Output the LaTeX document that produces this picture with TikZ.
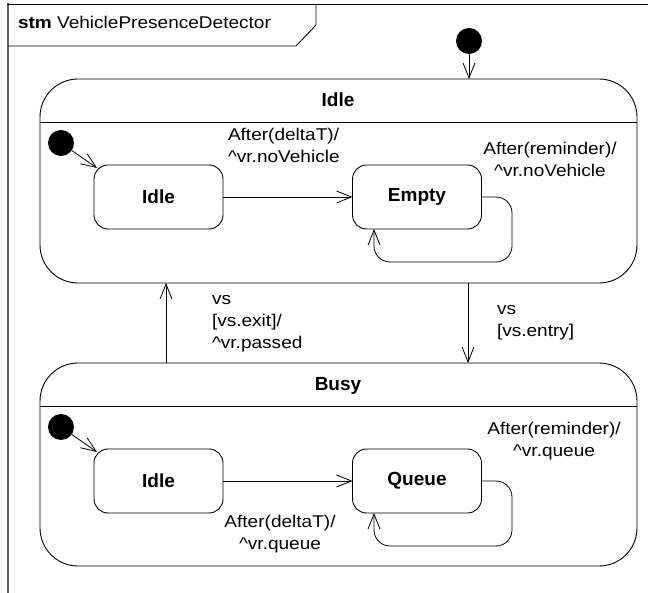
\documentclass[tikz,border=0pt]{standalone}
\usepackage{fontspec}
\setmainfont{Liberation Sans}[FakeStretch=1.12]
\newfontfamily\statefont{Liberation Sans}
\usetikzlibrary{arrows.meta}
\begin{document}
\begin{tikzpicture}[x=1pt,y=-1pt,
  every node/.style={inner sep=0pt,outer sep=0pt},
  composite/.style={draw,rounded corners=38pt,minimum width=597pt,minimum height=204pt,line width=0.9pt},
  simple/.style={draw,rounded corners=14pt,minimum width=129pt,minimum height=64pt,line width=0.9pt,
    font=\statefont\bfseries\fontsize{19}{21}\selectfont},
  ctitle/.style={font=\statefont\bfseries\fontsize{19}{21}\selectfont,anchor=base},
  initial/.style={circle,fill=black,minimum size=26pt},
  trans/.style={-{Straight Barb[length=15pt,width=12pt,line width=0.8pt]},line width=0.8pt},
  lbl/.style={font=\fontsize{17}{22}\selectfont,align=left},
  clbl/.style={font=\fontsize{17}{22}\selectfont,align=center},
]
\useasboundingbox (0,0) rectangle (648,593);

% diagram frame and heading
\draw[line width=2pt,gray!80!black] (8,3) -- (8,593);
\draw[line width=0.9pt] (7,4) -- (648,4);
\draw[line width=0.9pt] (8,46) -- (296,46) -- (316,25) -- (316,4);
\node[anchor=base west,font=\fontsize{17}{20}\selectfont] (heading) at (18,29)
  {\textbf{stm} VehiclePresenceDetector};

% composite states
\node[composite] (idleC) at (338.5,181) {};
\node[composite,minimum height=203pt] (busyC) at (338.5,464.5) {};
\coordinate (sepIa) at (40,122);
\coordinate (sepIb) at (637,122);
\coordinate (sepBa) at (40,406);
\coordinate (sepBb) at (637,406);
\draw[line width=0.9pt] (sepIa) -- (sepIb);
\draw[line width=0.9pt] (sepBa) -- (sepBb);
\node[ctitle] (idleT) at (338,107) {Idle};
\node[ctitle] (busyT) at (338,391) {Busy};

% top-level initial pseudostate
\node[initial] (init0) at (469,41) {};
\draw[trans] (init0) -- (init0 |- idleC.north);

% substates of Idle
\node[initial] (init1) at (61,143) {};
\node[simple] (idle1) at (158.5,197) {Idle};
\node[simple] (empty) at (417,197) {Empty};
\coordinate (idle1c) at (97,168);
\draw[trans] (init1) -- (idle1c);
\draw[trans] (idle1) -- (empty);
\coordinate (eloopA) at (512,197);
\coordinate (eloopB) at (512,262);
\coordinate (eloopC) at (374,262);
\draw[trans,rounded corners=16pt] (empty.east) -- (eloopA) -- (eloopB) -- (eloopC) -- (eloopC |- empty.south);
\node[lbl,anchor=north west] (l1) at (228,128) {\vphantom{[}After(deltaT)/\\\textasciicircum vr.noVehicle};
\node[clbl,anchor=north] (l2) at (550,142) {\vphantom{[}After(reminder)/\\\textasciicircum vr.noVehicle};

% substates of Busy
\node[initial] (init2) at (61,427) {};
\node[simple] (idle2) at (158.5,481) {Idle};
\node[simple] (queue) at (417,481) {Queue};
\coordinate (idle2c) at (97,452);
\draw[trans] (init2) -- (idle2c);
\draw[trans] (idle2) -- (queue);
\coordinate (qloopA) at (512,481);
\coordinate (qloopB) at (512,546);
\coordinate (qloopC) at (374,546);
\draw[trans,rounded corners=16pt] (queue.east) -- (qloopA) -- (qloopB) -- (qloopC) -- (qloopC |- queue.south);
\node[clbl,anchor=north] (l6) at (280,515) {\vphantom{[}After(deltaT)/\\\textasciicircum vr.queue};
\node[clbl,anchor=north] (l5) at (554,422) {\vphantom{[}After(reminder)/\\\textasciicircum vr.queue};

% transitions between the composite states
\coordinate (upX) at (166,0);
\coordinate (downX) at (468,0);
\draw[trans] (upX |- busyC.north) -- (upX |- idleC.south);
\draw[trans] (downX |- idleC.south) -- (downX |- busyC.north);
\node[lbl,anchor=north west] (l3) at (212,292) {\vphantom{[}vs\\{}[vs.exit]/\\\textasciicircum vr.passed};
\node[lbl,anchor=north west] (l4) at (497,302) {\vphantom{[}vs\\{}[vs.entry]};
\end{tikzpicture}
\end{document}
